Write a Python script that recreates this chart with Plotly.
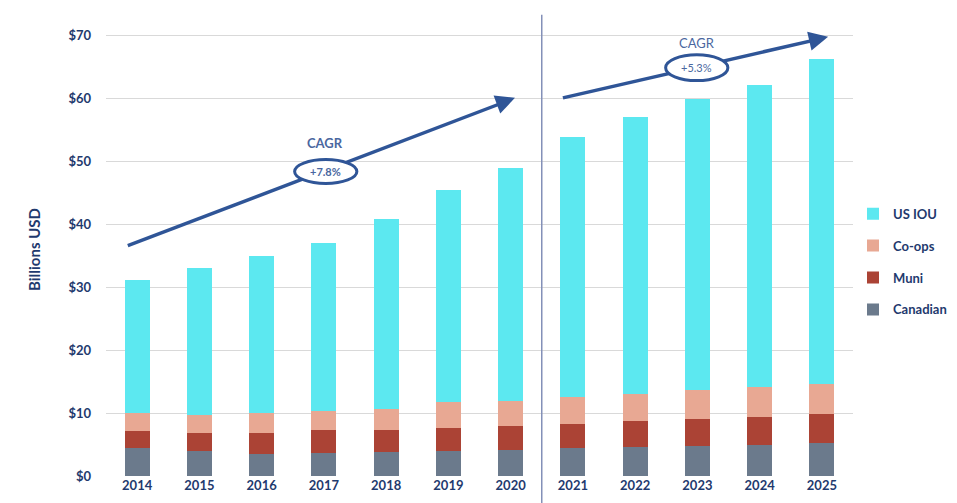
import plotly.graph_objects as go

years = [2014, 2015, 2016, 2017, 2018, 2019, 2020, 2021, 2022, 2023, 2024, 2025]
canadian = [4.45, 4.0, 3.5, 3.65, 3.75, 4.0, 4.1, 4.4, 4.6, 4.8, 4.9, 5.2]
muni = [2.75, 2.8, 3.4, 3.65, 3.55, 3.6, 3.9, 3.9, 4.1, 4.2, 4.5, 4.6]
coops = [2.85, 2.9, 3.1, 3.0, 3.3, 4.1, 4.0, 4.3, 4.4, 4.7, 4.8, 4.9]
us_iou = [21.15, 23.4, 25.0, 26.8, 30.3, 33.8, 37.0, 41.3, 44.0, 46.3, 48.0, 51.5]
y_ticks = [0, 10, 20, 30, 40, 50, 60, 70]
y_labels = ["$" + str(v) for v in y_ticks]

NAVY = "#1f3a6e"
ARROW = "#2f5597"
FONT = "Lato"

# drawn bottom to top; rank sets legend order (US IOU on top)
series = [
    ("Canadian", canadian, "#6b7a8c", 4),
    ("Muni", muni, "#ab4335", 3),
    ("Co-ops", coops, "#e8a893", 2),
    ("US IOU", us_iou, "#5ce8f0", 1),
]

fig = go.Figure()
for name, vals, color, rank in series:
    fig.add_trace(
        go.Bar(
            x=years,
            y=vals,
            name=name,
            legendgroup=name,
            legendrank=rank,
            marker=dict(color=color, line=dict(width=0)),
            width=0.4,
        )
    )

shapes = [
    # divider between actual and forecast
    dict(type="line", xref="paper", yref="paper", x0=7 / 12, x1=7 / 12,
         y0=-0.08, y1=1.018, line=dict(color="#8390b8", width=1.5)),
    # arrow shafts
    dict(type="line", xref="x", yref="y", x0=2013.85, y0=36.6, x1=2020.0, y1=59.8,
         line=dict(color=ARROW, width=3.5)),
    dict(type="line", xref="x", yref="y", x0=2020.84, y0=60.1, x1=2025.02, y1=69.6,
         line=dict(color=ARROW, width=3.5)),
    # CAGR ellipses
    dict(type="circle", xref="x", yref="y", x0=2016.53, x1=2017.53, y0=46.5, y1=50.3,
         fillcolor="white", line=dict(color=ARROW, width=3)),
    dict(type="circle", xref="x", yref="y", x0=2022.49, x1=2023.49, y0=62.85, y1=66.95,
         fillcolor="white", line=dict(color=ARROW, width=3)),
]

annotations = [
    dict(x=2020.07, y=60.1, ax=-19, ay=7, text="", showarrow=True, arrowhead=2,
         arrowsize=1.1, arrowwidth=3.5, arrowcolor=ARROW),
    dict(x=2025.1, y=69.8, ax=-19.5, ay=4.5, text="", showarrow=True, arrowhead=2,
         arrowsize=1.1, arrowwidth=3.5, arrowcolor=ARROW),
    dict(x=2017.02, y=53.0, text="<b>CAGR</b>", showarrow=False,
         font=dict(size=13, color="#4a67a0")),
    dict(x=2017.03, y=48.4, text="<b>+7.8%</b>", showarrow=False,
         font=dict(size=11, color="#4a67a0")),
    dict(x=2022.99, y=68.9, text="CAGR", showarrow=False,
         font=dict(size=13, color="#4a67a0")),
    dict(x=2022.99, y=64.9, text="+5.3%", showarrow=False,
         font=dict(size=11, color="#4a67a0")),
    dict(x=2016.8, y=72.7, text="Actual", showarrow=False,
         font=dict(size=13, color="#3a4d7a")),
    dict(x=2022.98, y=72.9, text="Forecasted", showarrow=False,
         font=dict(size=13, color="#3a4d7a")),
]

# the page has an 8px body margin, so the figure is drawn 8px smaller
fig.update_layout(
    barmode="stack",
    width=949,
    height=495,
    margin=dict(l=98, r=104, t=15, b=27, autoexpand=False),
    paper_bgcolor="white",
    plot_bgcolor="white",
    font=dict(family=FONT, color=NAVY),
    shapes=shapes,
    annotations=annotations,
    legend=dict(
        traceorder="grouped",
        tracegroupgap=12,
        x=1.0,
        y=0.612,
        xanchor="left",
        yanchor="top",
        font=dict(size=13, color=NAVY, weight="bold"),
        itemwidth=30,
    ),
    xaxis=dict(
        tickmode="array",
        tickvals=years,
        ticktext=[str(y) for y in years],
        range=[2013.5, 2025.5],
        tickfont=dict(size=13, color=NAVY, weight="bold"),
        showgrid=False,
        zeroline=False,
        showline=False,
        ticks="",
        automargin=False,
    ),
    yaxis=dict(
        range=[0, 72],
        tickmode="array",
        tickvals=y_ticks,
        ticktext=y_labels,
        tickfont=dict(size=13, color=NAVY, weight="bold"),
        showgrid=True,
        gridcolor="#d9d9d9",
        gridwidth=1,
        zeroline=False,
        ticklabelstandoff=14,
        automargin=False,
        title=dict(text="Billions USD", font=dict(size=15, color=NAVY, weight="bold"),
                   standoff=24),
    ),
)

fig.write_html("out.html")
